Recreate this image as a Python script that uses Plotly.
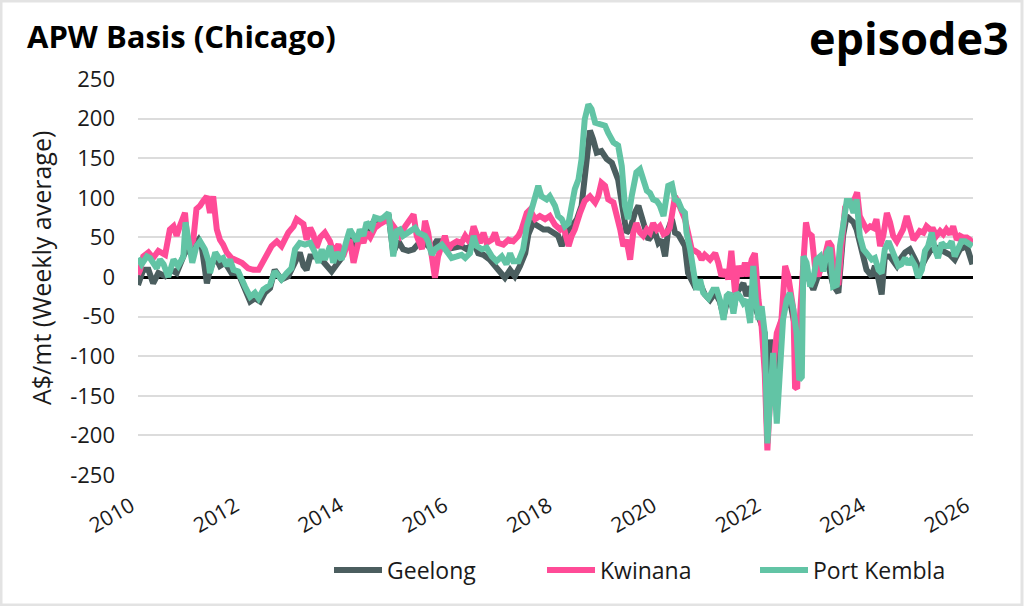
import plotly.graph_objects as go

# ---------------- data ----------------
geelong_year = [2010.00, 2010.10, 2010.20, 2010.29, 2010.39, 2010.52, 2010.64, 2010.74, 2010.90, 2011.03, 2011.16, 2011.22, 2011.32, 2011.38, 2011.48, 2011.57, 2011.67, 2011.79, 2011.92, 2012.05, 2012.15, 2012.24, 2012.34, 2012.43, 2012.53, 2012.62, 2012.75, 2012.88, 2013.01, 2013.10,
                2013.17, 2013.23, 2013.30, 2013.39, 2013.49, 2013.58, 2013.71, 2013.81, 2013.90, 2014.00, 2014.06, 2014.16, 2014.25, 2014.35, 2014.45, 2014.54, 2014.64, 2014.73, 2014.80, 2014.89, 2014.99, 2015.08, 2015.18, 2015.28, 2015.34, 2015.44, 2015.53, 2015.63, 2015.72, 2015.79, 2015.91, 2016.04, 2016.20,
                2016.30, 2016.43, 2016.52, 2016.62, 2016.74, 2016.84, 2016.94, 2017.03, 2017.13, 2017.22, 2017.32, 2017.42, 2017.48, 2017.57, 2017.67, 2017.77, 2017.86, 2017.96, 2018.05, 2018.12, 2018.21, 2018.31, 2018.41, 2018.50, 2018.60, 2018.66, 2018.72, 2018.79, 2018.88, 2018.98, 2019.08, 2019.14, 2019.20, 2019.30, 2019.36, 2019.43,
                2019.52, 2019.59, 2019.65, 2019.71, 2019.78, 2019.84, 2019.91, 2019.97, 2020.03, 2020.10, 2020.16, 2020.23, 2020.29, 2020.35, 2020.42, 2020.48, 2020.54, 2020.61, 2020.67, 2020.77, 2020.86, 2020.96, 2021.06, 2021.15, 2021.22, 2021.31, 2021.41, 2021.47, 2021.60, 2021.66, 2021.73, 2021.82, 2021.92, 2022.01, 2022.06, 2022.11, 2022.17, 2022.24, 2022.30, 2022.40, 2022.49,
                2022.59, 2022.67, 2022.75, 2022.81, 2022.94, 2023.07, 2023.20, 2023.32, 2023.42, 2023.51, 2023.58, 2023.64, 2023.71, 2023.77, 2023.87, 2023.96, 2024.06, 2024.12, 2024.19, 2024.25, 2024.31, 2024.41, 2024.54, 2024.60, 2024.70, 2024.79, 2024.89, 2024.98, 2025.08, 2025.18, 2025.30, 2025.43, 2025.56, 2025.65, 2025.75, 2025.88, 2025.97, 2025.99]
geelong_val = [-10, 9, 9, -8, 5, 1, 9, 5, 31, 35, 47, 39, -8, 9, 26, 14, 18, 5, 5, -16, -31, -27, -31, -20, -14, 9, -3, 1, 18, 31,
               14, 9, 26, 26, 24, 18, 7, 16, 24, 41, 52, 39, 52, 58, 62, 73, 71, 75, 79, 31, 45, 35, 33, 35, 39, 47, 41, 35, 45, 45, 35, 37, 39,
               35, 43, 30, 28, 22, 14, 5, -1, 9, 1, 14, 30, 54, 68, 64, 60, 60, 56, 52, 39, 56, 64, 73, 90, 144, 185, 174, 157, 159, 149, 144, 135, 123, 81, 56, 60,
               81, 90, 77, 60, 47, 52, 56, 43, 47, 26, 60, 73, 56, 54, 47, 39, 5, -3, -12, -8, -22, -29, -20, -31, -50, -24, -41, -20, -8, -24, -12, -37, -54, -71, -206, -79, -139, -96, -63, -37, -29,
               -63, -126, 14, 5, -16, 9, 22, -10, -20, 52, 77, 73, 69, 60, 31, 9, 1, 14, -3, -22, 26, 26, 14, 22, 31, 35, 22, 9, 22, 33, 37, 33, 28, 22, 35, 39, 22, 16]

kwinana_year = [2010.00, 2010.04, 2010.10, 2010.20, 2010.29, 2010.39, 2010.52, 2010.61, 2010.68, 2010.74, 2010.80, 2010.90, 2010.96, 2011.06, 2011.12, 2011.19, 2011.25, 2011.32, 2011.38, 2011.44, 2011.51, 2011.57, 2011.63, 2011.70, 2011.79, 2011.89, 2011.99, 2012.11, 2012.21, 2012.31, 2012.37, 2012.46, 2012.56, 2012.66, 2012.75, 2012.88, 2012.98, 2013.04,
                2013.17, 2013.23, 2013.30, 2013.36, 2013.42, 2013.49, 2013.58, 2013.68, 2013.74, 2013.84, 2013.93, 2014.00, 2014.06, 2014.13, 2014.19, 2014.25, 2014.32, 2014.38, 2014.45, 2014.54, 2014.64, 2014.73, 2014.80, 2014.92, 2015.02, 2015.12, 2015.21, 2015.28, 2015.34, 2015.44, 2015.50, 2015.56, 2015.63, 2015.69, 2015.75, 2015.82, 2015.88, 2015.95, 2016.01, 2016.11, 2016.20,
                2016.27, 2016.36, 2016.43, 2016.49, 2016.55, 2016.62, 2016.68, 2016.78, 2016.84, 2016.90, 2017.00, 2017.10, 2017.19, 2017.29, 2017.35, 2017.45, 2017.51, 2017.61, 2017.70, 2017.80, 2017.89, 2017.99, 2018.09, 2018.15, 2018.25, 2018.31, 2018.37, 2018.47, 2018.56, 2018.66, 2018.76, 2018.82, 2018.88, 2018.95, 2019.01, 2019.11, 2019.17, 2019.24, 2019.30, 2019.36, 2019.43,
                2019.49, 2019.55, 2019.62, 2019.68, 2019.75, 2019.81, 2019.87, 2019.94, 2020.00, 2020.07, 2020.13, 2020.19, 2020.29, 2020.35, 2020.42, 2020.48, 2020.54, 2020.61, 2020.67, 2020.74, 2020.80, 2020.86, 2020.96, 2021.06, 2021.12, 2021.18, 2021.25, 2021.31, 2021.37, 2021.44, 2021.50, 2021.57, 2021.63, 2021.69, 2021.76, 2021.82, 2021.89, 2021.95, 2022.01, 2022.06, 2022.11, 2022.17, 2022.24, 2022.33, 2022.40, 2022.46, 2022.52,
                2022.56, 2022.59, 2022.63, 2022.68, 2022.75, 2022.80, 2022.84, 2022.91, 2022.97, 2023.04, 2023.10, 2023.16, 2023.23, 2023.29, 2023.36, 2023.42, 2023.48, 2023.55, 2023.61, 2023.67, 2023.74, 2023.78, 2023.83, 2023.90, 2023.96, 2024.03, 2024.09, 2024.15, 2024.22, 2024.28, 2024.35, 2024.41, 2024.47, 2024.54, 2024.60, 2024.66, 2024.73, 2024.79, 2024.86, 2024.92, 2024.98, 2025.05, 2025.11, 2025.18, 2025.24, 2025.30, 2025.37, 2025.43, 2025.49, 2025.56, 2025.62, 2025.69, 2025.75, 2025.81, 2025.88, 2025.94, 2025.99]
kwinana_val = [3, 9, 26, 31, 24, 33, 28, 60, 64, 52, 64, 81, 35, 47, 86, 90, 96, 102, 81, 102, 60, 47, 41, 31, 24, 22, 18, 11, 9, 9, 16, 24, 39, 45, 39, 56, 64, 73,
               67, 47, 62, 54, 37, 50, 56, 45, 31, 41, 26, 39, 47, 18, 35, 52, 43, 56, 50, 62, 67, 71, 73, 62, 52, 64, 71, 79, 52, 35, 71, 56, 26, -1, 26, 43, 52, 35, 41, 45, 43,
               52, 43, 64, 52, 43, 56, 43, 47, 56, 43, 41, 47, 45, 52, 60, 81, 85, 73, 77, 73, 77, 66, 60, 64, 39, 52, 60, 81, 96, 102, 94, 102, 119, 115, 98, 94, 81, 60, 39, 47, 22,
               56, 68, 56, 52, 60, 56, 68, 60, 64, 54, 56, 62, 102, 94, 81, 73, 56, 35, 33, 30, 22, 28, 22, 30, 18, 1, 9, -3, 33, -20, 14, 1, 18, 1, 22, 30, -29, -63, -122, -219, -155, -122, -71, -54, 14, 1, -20,
               -42, -139, -141, -54, 9, 69, 56, 52, 14, 1, 18, 26, 45, 39, -3, -10, 39, 88, 94, 92, 100, 107, 77, 69, 60, 64, 62, 73, 39, 52, 81, 69, 52, 45, 54, 60, 77, 64, 47, 52, 58, 56, 64, 60, 60, 52, 58, 54, 60, 54, 64, 47, 52, 50, 50, 47, 43]

portkembla_year = [2010.00, 2010.07, 2010.17, 2010.23, 2010.29, 2010.36, 2010.42, 2010.49, 2010.58, 2010.68, 2010.77, 2010.87, 2010.91, 2011.00, 2011.04, 2011.12, 2011.19, 2011.28, 2011.35, 2011.38, 2011.48, 2011.57, 2011.63, 2011.70, 2011.76, 2011.83, 2011.92, 2012.05, 2012.15, 2012.24, 2012.31, 2012.40, 2012.46, 2012.53, 2012.62, 2012.75, 2012.85, 2012.94, 2013.01, 2013.10,
                   2013.20, 2013.30, 2013.39, 2013.46, 2013.52, 2013.58, 2013.68, 2013.74, 2013.81, 2013.90, 2014.00, 2014.06, 2014.13, 2014.19, 2014.25, 2014.32, 2014.38, 2014.48, 2014.54, 2014.64, 2014.70, 2014.80, 2014.86, 2014.89, 2014.96, 2015.02, 2015.08, 2015.18, 2015.24, 2015.31, 2015.37, 2015.44, 2015.50, 2015.56, 2015.63, 2015.69, 2015.75, 2015.82, 2015.91, 2016.01, 2016.11, 2016.20,
                   2016.27, 2016.36, 2016.43, 2016.49, 2016.59, 2016.68, 2016.78, 2016.87, 2016.97, 2017.06, 2017.13, 2017.19, 2017.29, 2017.38, 2017.45, 2017.54, 2017.61, 2017.67, 2017.73, 2017.83, 2017.89, 2017.99, 2018.05, 2018.12, 2018.18, 2018.25, 2018.31, 2018.37, 2018.44, 2018.50, 2018.56, 2018.63, 2018.69, 2018.76, 2018.85, 2018.95, 2019.01, 2019.11, 2019.20, 2019.27, 2019.33, 2019.39, 2019.46,
                   2019.49, 2019.55, 2019.62, 2019.68, 2019.75, 2019.81, 2019.87, 2019.94, 2020.00, 2020.07, 2020.13, 2020.16, 2020.23, 2020.29, 2020.35, 2020.42, 2020.48, 2020.51, 2020.58, 2020.64, 2020.70, 2020.77, 2020.83, 2020.93, 2021.02, 2021.09, 2021.15, 2021.22, 2021.28, 2021.34, 2021.41, 2021.47, 2021.53, 2021.60, 2021.66, 2021.73, 2021.79, 2021.84, 2021.89, 2021.95, 2022.01, 2022.06, 2022.11, 2022.17, 2022.24, 2022.30, 2022.36, 2022.43, 2022.49,
                   2022.56, 2022.62, 2022.67, 2022.72, 2022.75, 2022.81, 2022.88, 2022.94, 2023.00, 2023.07, 2023.13, 2023.20, 2023.26, 2023.32, 2023.39, 2023.45, 2023.51, 2023.58, 2023.64, 2023.71, 2023.77, 2023.83, 2023.90, 2023.99, 2024.06, 2024.12, 2024.19, 2024.25, 2024.31, 2024.38, 2024.44, 2024.51, 2024.57, 2024.63, 2024.70, 2024.76, 2024.82, 2024.89, 2024.95, 2025.02, 2025.08, 2025.14, 2025.21, 2025.27, 2025.33, 2025.40, 2025.46, 2025.53, 2025.59, 2025.65, 2025.72, 2025.78, 2025.85, 2025.91, 2025.99]
portkembla_val = [24, 16, 26, 24, 18, 11, 22, 16, 0, 22, 14, 26, 69, 35, 18, 39, 45, 35, 20, 5, 31, 22, 24, 14, 22, 9, 7, -12, -25, -20, -27, -16, -14, -10, 7, -3, 5, 11, 35, 43,
                  41, 43, 31, 18, 35, 22, 39, 18, 31, 22, 47, 60, 52, 45, 60, 52, 69, 62, 75, 73, 75, 81, 47, 26, 58, 60, 52, 56, 60, 62, 56, 54, 52, 45, 28, 35, 37, 41, 33, 24, 26, 28,
                  24, 30, 52, 39, 35, 37, 26, 20, 26, 16, 30, 20, 20, 35, 64, 85, 98, 115, 102, 98, 102, 90, 77, 73, 64, 68, 90, 111, 123, 149, 199, 218, 212, 195, 193, 191, 182, 170, 166, 140, 90, 73, 102,
                  111, 132, 136, 123, 109, 106, 98, 96, 90, 77, 98, 115, 117, 98, 96, 85, 81, 56, 35, 5, -16, -3, -20, -27, -16, -16, -29, -54, -24, -20, -46, -20, -24, -33, -29, -58, 14, -29, -54, -37, -71, -210, -147, -96, -185, -113, -54, -29, -20,
                  -42, -71, -130, -126, 26, 18, -12, -3, 22, 26, 7, 31, 37, -12, -10, 39, 64, 96, 96, 81, 98, 52, 35, 28, 22, 24, 9, 5, 35, 45, 35, 26, 14, 16, 24, 16, 22, 14, -1, 9, 33, 39, 56, 35, 24, 43, 39, 39, 45, 26, 39, 45, 45, 43, 39]

series_names = ["Geelong", "Kwinana", "Port Kembla"]
series_colors = ["#4b5e5f", "#ff4b97", "#62c4a5"]

x_tick_vals = [2010, 2012, 2014, 2016, 2018, 2020, 2022, 2024, 2026]
x_tick_text = ["2010", "2012", "2014", "2016", "2018", "2020", "2022", "2024", "2026"]
y_tick_vals = [250, 200, 150, 100, 50, 0, -50, -100, -150, -200, -250]
y_tick_text = ["250", "200", "150", "100", "50", "0", "-50", "-100", "-150", "-200", "-250"]

title_text = "APW Basis (Chicago)"
y_title_text = "A$/mt (Weekly average)"
logo_text = "episode3"

# ---------------- figure ----------------
W, H = 1024, 606
ML, MR, MT, MB = 138, 51, 79, 131
PW, PH = W - ML - MR, H - MT - MB


def px_x(x):
    return (x - ML) / PW


def px_y(y):
    return (H - MB - y) / PH


FONT = "Open Sans"
TXT = "#1a1a1a"

fig = go.Figure()
data = [(geelong_year, geelong_val), (kwinana_year, kwinana_val), (portkembla_year, portkembla_val)]
for (xs, ys), name, color in zip(data, series_names, series_colors):
    fig.add_trace(go.Scatter(x=xs, y=ys, mode="lines", name=name,
                             line=dict(color=color, width=6)))

fig.update_layout(
    width=W, height=H,
    margin=dict(l=ML, r=MR, t=MT, b=MB, pad=0),
    paper_bgcolor="white", plot_bgcolor="white",
    font=dict(family=FONT, size=20, color=TXT),
    showlegend=True,
    legend=dict(orientation="h", x=px_x(329), xanchor="left", y=px_y(570), yanchor="middle",
                font=dict(family=FONT, size=23, color=TXT), itemwidth=48,
                entrywidth=150, entrywidthmode="pixels", bgcolor="rgba(0,0,0,0)"),
    xaxis=dict(range=[2010, 2026], tickvals=x_tick_vals, ticktext=x_tick_text,
               tickangle=-30, showgrid=False, zeroline=False, showline=False,
               ticks="", ticklabelstandoff=14, ticklabelshift=-7,
               tickfont=dict(family=FONT, size=21, color=TXT)),
    yaxis=dict(range=[-250, 250], tickvals=y_tick_vals, ticktext=y_tick_text,
               showgrid=True, gridcolor="#dcdcdc", gridwidth=1.5,
               zeroline=True, zerolinecolor="#000000", zerolinewidth=3,
               showline=False, ticks="", ticklabelstandoff=22,
               tickfont=dict(family=FONT, size=22, color=TXT)),
)

fig.add_annotation(text="<b>" + title_text + "</b>", xref="paper", yref="paper",
                   x=px_x(25), y=px_y(36), xanchor="left", yanchor="middle", showarrow=False,
                   font=dict(family=FONT, size=31, color="#000000"))
fig.add_annotation(text="<b>" + logo_text + "</b>", xref="paper", yref="paper",
                   x=px_x(1011), y=px_y(37), xanchor="right", yanchor="middle", showarrow=False,
                   font=dict(family=FONT, size=45, color="#000000"))
fig.add_annotation(text=y_title_text, xref="paper", yref="paper",
                   x=px_x(41), y=px_y(268), xanchor="center", yanchor="middle", showarrow=False,
                   textangle=-90, font=dict(family=FONT, size=25, color=TXT))

# light frame around the whole image
fig.add_shape(type="rect", xref="paper", yref="paper",
              x0=px_x(1), x1=px_x(W - 2), y0=px_y(H - 1), y1=px_y(1),
              line=dict(color="#e3e3e3", width=3), fillcolor="rgba(0,0,0,0)", layer="below")

fig.write_html("out.html", config={"displayModeBar": False},
               post_script="document.body.style.margin='0px';")
